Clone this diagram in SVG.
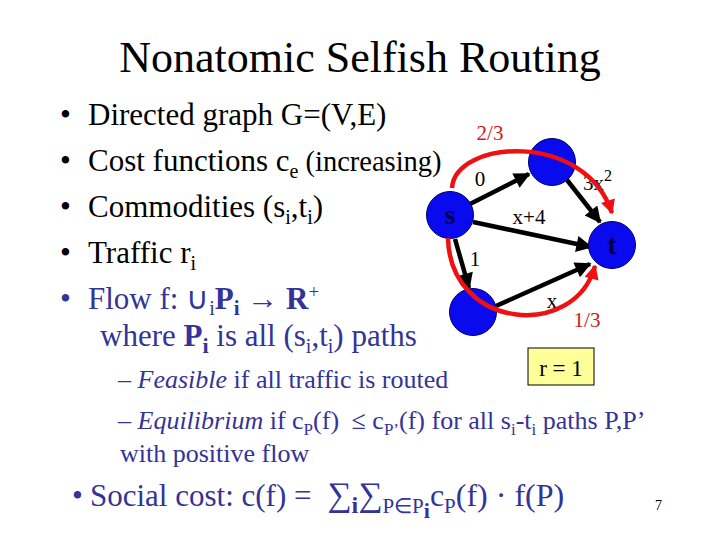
<svg xmlns="http://www.w3.org/2000/svg" width="720" height="540" viewBox="0 0 720 540">
<style>
text{font-family:"Liberation Serif","Times New Roman",serif}
.title{font-size:44px;fill:#000}
.b{font-size:31px;fill:#000}
.bl{font-size:31px;fill:#333399}
.sb{font-size:26px;fill:#333399}
.lab{font-size:21px;fill:#000}
.red{font-size:21px;fill:#cc1a1a}
.node{fill:#0a0aee;stroke:#000066;stroke-width:1}
.nl{font-size:27px;fill:#000044;font-weight:bold;text-anchor:middle}
.edge{stroke:#000;stroke-width:4.5;fill:none;marker-end:url(#ah)}
.flow{stroke:#ee1111;stroke-width:4.5;fill:none;marker-end:url(#rh)}
</style>
<defs>
<marker id="ah" viewBox="0 0 10 10" refX="9" refY="5" markerWidth="4.2" markerHeight="3.6" orient="auto"><path d="M0,0 L10,5 L0,10 Z" fill="#000"/></marker>
<marker id="rh" viewBox="0 0 10 10" refX="9" refY="5" markerWidth="3.6" markerHeight="3.2" orient="auto"><path d="M0,0 L10,5 L0,10 Z" fill="#ee1111"/></marker>
</defs>
<rect width="720" height="540" fill="#fff"/>
<text class="title" x="360" y="72" text-anchor="middle">Nonatomic Selfish Routing</text>

<g id="bullets">
<text class="b" x="60" y="125">•</text>
<text class="b" x="88" y="125">Directed graph G=(V,E)</text>
<text class="b" x="60" y="171">•</text>
<text class="b" x="88" y="171">Cost functions c<tspan font-size="20" baseline-shift="-7">e</tspan><tspan font-size="28.5"> (increasing)</tspan></text>
<text class="b" x="60" y="217">•</text>
<text class="b" x="88" y="217">Commodities (s<tspan font-size="20" baseline-shift="-7">i</tspan>,t<tspan font-size="20" baseline-shift="-7">i</tspan>)</text>
<text class="b" x="60" y="263">•</text>
<text class="b" x="88" y="263">Traffic r<tspan font-size="20" baseline-shift="-7">i</tspan></text>
<text class="bl" x="60" y="309">•</text>
<text class="bl" x="88" y="309">Flow f: ∪<tspan font-size="20" baseline-shift="-6">i</tspan><tspan font-weight="bold">P<tspan font-size="21" baseline-shift="-6">i</tspan></tspan> → <tspan font-weight="bold">R</tspan><tspan font-size="19" baseline-shift="11">+</tspan></text>
<text class="bl" x="100" y="346">where <tspan font-weight="bold">P<tspan font-size="22" baseline-shift="-7">i</tspan></tspan> is all (s<tspan font-size="20" baseline-shift="-7">i</tspan>,t<tspan font-size="20" baseline-shift="-7">i</tspan>) paths</text>
<text class="sb" x="118" y="388">– <tspan font-style="italic">Feasible</tspan> if all traffic is routed</text>
<text class="sb" x="118" y="429">– <tspan font-style="italic">Equilibrium</tspan> if c<tspan font-size="17" baseline-shift="-6">P</tspan>(f) <tspan dx="6">≤</tspan> c<tspan font-size="17" baseline-shift="-6">P’</tspan>(f) for all s<tspan font-size="17" baseline-shift="-6">i</tspan>-t<tspan font-size="17" baseline-shift="-6">i</tspan> paths P,P’</text>
<text class="sb" x="120" y="462">with positive flow</text>
<text class="bl" x="72" y="506">•</text>
<text class="bl" x="90" y="506">Social cost: c(f) = <tspan font-size="34" dx="8">∑</tspan><tspan font-size="24" baseline-shift="-7" font-weight="bold">i</tspan><tspan font-size="34">∑</tspan><tspan font-size="21" baseline-shift="-7">P∈P<tspan font-size="22" baseline-shift="-5" font-weight="bold">i</tspan></tspan><tspan font-size="32">c</tspan><tspan font-size="21" baseline-shift="-7">P</tspan><tspan font-size="32">(f) · f(P)</tspan></text>
<text x="655" y="510" font-family="Liberation Sans, Arial, sans-serif" font-size="14" fill="#000">7</text>
</g>

<g id="connectors">
<path class="edge" d="M470,204 L529,174"/>
<path class="edge" d="M567,180 L600,222"/>
<path class="edge" d="M473,222 L591,247"/>
<path class="edge" d="M455,239 L469,288"/>
<path class="edge" d="M496,306 L590,264"/>
</g>

<g id="node-s"><circle class="node" cx="450" cy="215" r="23.5"/><text class="nl" x="450" y="224">s</text></g>
<g id="node-top"><circle class="node" cx="552" cy="162" r="23.5"/></g>
<g id="node-t"><circle class="node" cx="612" cy="245" r="23.5"/><text class="nl" x="612" y="254">t</text></g>
<g id="node-bottom"><circle class="node" cx="473" cy="312" r="23.5"/></g>

<g id="labels">
<text class="lab" x="480" y="186" text-anchor="middle">0</text>
<text class="lab" x="583" y="190">3x<tspan font-size="16" baseline-shift="9">2</tspan></text>
<text class="lab" x="529" y="224" text-anchor="middle">x+4</text>
<text class="lab" x="475" y="266" text-anchor="middle">1</text>
<text class="lab" x="552" y="308" text-anchor="middle">x</text>
</g>

<g id="flows">
<path class="flow" d="M452,188 C455,140 585,130 612,213"/>
<path class="flow" d="M448,238 C450,330 575,340 595,266"/>
<text class="red" x="490" y="140" text-anchor="middle">2/3</text>
<text class="red" x="587" y="327" text-anchor="middle">1/3</text>
</g>

<g id="rate">
<rect x="528" y="348" width="66" height="37" fill="#ffff99" stroke="#000" stroke-width="1"/>
<text x="561" y="376" text-anchor="middle" font-size="23" fill="#000">r = 1</text>
</g>
</svg>
